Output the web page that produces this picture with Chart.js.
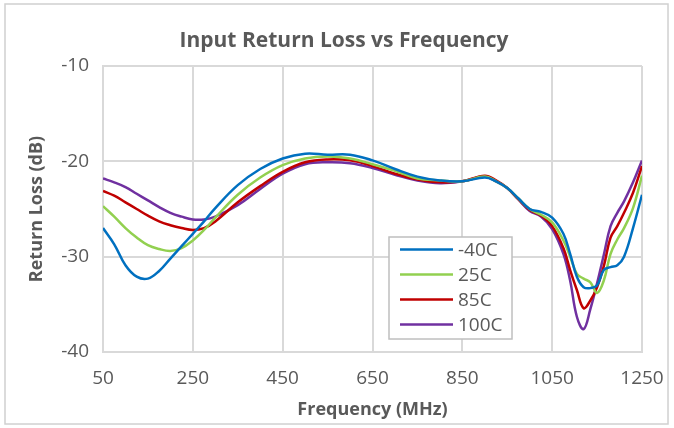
<!DOCTYPE html>
<html>
<head>
<meta charset="utf-8">
<script src="https://cdn.jsdelivr.net/npm/chart.js@4"></script>
<style>
  html, body { margin: 0; padding: 0; background: #fff; }
  #wrap { width: 674px; height: 428px; }
</style>
</head>
<body>
<div id="wrap"><canvas id="rlChart" width="674" height="428"></canvas></div>
<script>
// frequency points (MHz)
const freqs = [50, 75, 100, 125, 150, 175, 200, 225, 250, 275, 300, 350, 400, 450, 500, 550, 600, 650, 700, 750, 800, 850, 900, 925, 950, 975, 1000, 1025, 1050, 1075, 1090, 1105, 1120, 1135, 1150, 1165, 1180, 1195, 1210, 1230, 1250];

// return loss (dB) per temperature
const rlMinus40 = [-27.0, -28.7, -30.9, -32.1, -32.3, -31.5, -30.2, -28.9, -27.6, -26.3, -24.9, -22.5, -20.8, -19.7, -19.2, -19.3, -19.3, -19.9, -20.8, -21.6, -22.0, -22.1, -21.7, -22.1, -22.8, -23.9, -25.0, -25.3, -25.9, -27.6, -29.7, -32.1, -33.2, -33.3, -33.0, -31.4, -31.1, -30.9, -30.0, -27.0, -23.5];
const rl25 = [-24.7, -25.8, -27.0, -28.0, -28.8, -29.2, -29.4, -29.1, -28.3, -27.2, -25.9, -23.5, -21.7, -20.4, -19.7, -19.5, -19.7, -20.3, -21.0, -21.8, -22.0, -22.1, -21.6, -22.1, -22.8, -23.9, -25.0, -25.6, -26.4, -28.3, -30.0, -31.8, -32.3, -32.7, -33.8, -32.5, -29.7, -28.2, -27.0, -24.9, -21.5];
const rl85 = [-23.1, -23.6, -24.3, -25.0, -25.7, -26.3, -26.7, -27.0, -27.2, -27.0, -26.3, -24.3, -22.6, -21.1, -20.1, -19.8, -19.9, -20.5, -21.3, -21.9, -22.2, -22.1, -21.5, -22.0, -22.8, -24.0, -25.1, -25.7, -26.8, -29.1, -31.4, -33.5, -35.4, -34.6, -33.2, -31.0, -28.0, -26.8, -25.4, -23.3, -20.5];
const rl100 = [-21.8, -22.2, -22.7, -23.4, -24.1, -24.8, -25.4, -25.8, -26.1, -26.1, -25.8, -24.6, -22.9, -21.3, -20.3, -20.1, -20.2, -20.7, -21.4, -22.0, -22.3, -22.1, -21.6, -22.1, -22.8, -24.0, -25.2, -25.8, -27.1, -29.7, -32.5, -36.3, -37.6, -35.5, -32.8, -29.8, -26.8, -25.4, -24.2, -22.2, -19.9];

const seriesNames = ['-40C', '25C', '85C', '100C'];
const seriesColors = ['#0070C0', '#92D050', '#C00000', '#7030A0'];

const FONT = "'Open Sans', sans-serif";
const GREY_TEXT = '#595959';
const GRID = '#d9d9d9';

const toPoints = (vals) => vals.map((v, i) => ({ x: freqs[i], y: v }));

// border round the whole chart + legend box inside the plot
const framePlugin = {
	id: 'frame',
	beforeDraw(chart) {
		const ctx = chart.ctx;
		ctx.save();
		ctx.fillStyle = '#fff';
		ctx.fillRect(0, 0, chart.width, chart.height);
		ctx.strokeStyle = '#d0d0d0';
		ctx.lineWidth = 1.5;
		ctx.strokeRect(5, 4, 663, 420);
		ctx.restore();
	},
	afterDraw(chart) {
		const ctx = chart.ctx;
		const box = { x: 389, y: 237, w: 123, h: 102 };
		ctx.save();
		ctx.fillStyle = '#fff';
		ctx.fillRect(box.x, box.y, box.w, box.h);
		ctx.strokeStyle = '#bfbfbf';
		ctx.lineWidth = 1.5;
		ctx.strokeRect(box.x, box.y, box.w, box.h);
		ctx.font = '19px ' + FONT;
		ctx.textBaseline = 'middle';
		chart.data.datasets.forEach((ds, i) => {
			const y = box.y + 12.5 + i * 25;
			ctx.strokeStyle = ds.borderColor;
			ctx.lineWidth = 2.5;
			ctx.beginPath();
			ctx.moveTo(box.x + 11, y);
			ctx.lineTo(box.x + 64, y);
			ctx.stroke();
			ctx.fillStyle = GREY_TEXT;
			ctx.fillText(ds.label, box.x + 69, y + 1);
		});
		ctx.restore();
	},
};

const ctx = document.getElementById('rlChart').getContext('2d');
new Chart(ctx, {
	type: 'line',
	data: {
		datasets: [rlMinus40, rl25, rl85, rl100].map((vals, i) => ({
			label: seriesNames[i],
			data: toPoints(vals),
			borderColor: seriesColors[i],
			backgroundColor: seriesColors[i],
			borderWidth: 2.5,
			pointRadius: 0,
			tension: 0.4,
			fill: false,
		})),
	},
	options: {
		responsive: false,
		animation: false,
		devicePixelRatio: 1,
		layout: { padding: { top: 66, right: 32, left: 0, bottom: 0 } },
		plugins: {
			legend: { display: false },
			tooltip: { enabled: false },
			title: {
				display: false,
			},
		},
		scales: {
			x: {
				type: 'linear',
				min: 50,
				max: 1250,
				ticks: {
					stepSize: 200,
					padding: 15,
					color: GREY_TEXT,
					font: { family: FONT, size: 19 },
					callback: (v) => String(v),
				},
				grid: { color: GRID, lineWidth: 2, drawTicks: false },
				border: { color: GRID, width: 2 },
				title: {
					display: true,
					text: 'Frequency (MHz)',
					color: GREY_TEXT,
					font: { family: FONT, size: 18, weight: 'bold' },
					padding: 7,
				},
				afterFit(scale) {
					scale.height = 76;
					scale.paddingLeft = 0;
					scale.paddingRight = 0;
				},
			},
			y: {
				min: -40,
				max: -10,
				ticks: { stepSize: 10, padding: 14, color: GREY_TEXT, font: { family: FONT, size: 19 } },
				grid: { color: GRID, lineWidth: 2, drawTicks: false },
				border: { color: GRID, width: 2 },
				title: {
					display: true,
					text: 'Return Loss (dB)',
					color: GREY_TEXT,
					font: { family: FONT, size: 18, weight: 'bold' },
					padding: 26,
				},
				afterFit(scale) {
					scale.width = 103;
					scale.paddingTop = 0;
					scale.paddingBottom = 0;
				},
			},
		},
	},
	plugins: [framePlugin, {
		id: 'chartTitle',
		afterDraw(chart) {
			const c = chart.ctx;
			c.save();
			c.font = 'bold 21px ' + FONT;
			c.fillStyle = GREY_TEXT;
			c.textAlign = 'center';
			c.textBaseline = 'middle';
			c.fillText('Input Return Loss vs Frequency', 344, 41);
			c.restore();
		},
	}],
});
</script>
</body>
</html>
